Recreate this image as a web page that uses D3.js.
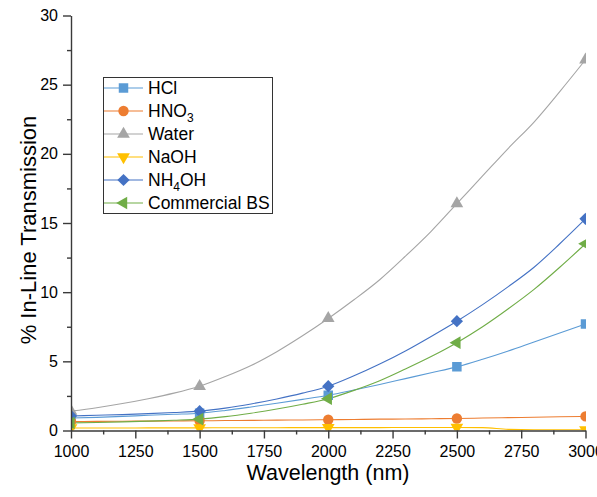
<!DOCTYPE html>
<html><head><meta charset="utf-8">
<script src="https://cdn.jsdelivr.net/npm/d3@7"></script>
<style>body{margin:0;background:#fff}svg{display:block;font-family:"Liberation Sans",Arial,sans-serif}</style>
</head><body><svg id="c" width="597" height="497"></svg>
<script>
// ---- data ----
const wavelengths = [1000,1100,1200,1300,1400,1500,1600,1700,1800,1900,2000,2100,2200,2300,2400,2500,2600,2700,2800,2900,3000];
const markerWavelengths = [1000,1500,2000,2500,3000];
const hcl   = [0.9,0.95,1.02,1.1,1.17,1.25,1.45,1.7,1.97,2.25,2.55,2.93,3.33,3.75,4.17,4.6,5.15,5.75,6.4,7.05,7.7];
const hno3  = [0.65,0.66,0.67,0.68,0.69,0.7,0.72,0.73,0.75,0.76,0.78,0.8,0.82,0.83,0.85,0.87,0.9,0.93,0.96,0.99,1.02];
const water = [1.4,1.65,1.95,2.3,2.7,3.2,3.9,4.7,5.7,6.85,8.1,9.45,10.9,12.6,14.4,16.4,18.4,20.4,22.3,24.5,26.8];
const naoh  = [0.18,0.18,0.18,0.19,0.19,0.19,0.2,0.2,0.2,0.21,0.21,0.21,0.21,0.22,0.22,0.22,0.21,0.08,0.05,0.05,0.05];
const nh4oh = [1.05,1.1,1.15,1.22,1.3,1.4,1.62,1.92,2.28,2.7,3.2,3.95,4.8,5.75,6.8,7.9,9.1,10.4,11.8,13.5,15.3];
const commercialBS = [0.55,0.58,0.62,0.68,0.74,0.82,1.0,1.25,1.55,1.9,2.3,2.9,3.6,4.45,5.35,6.35,7.5,8.8,10.2,11.8,13.5];
const xTickValues = [1000,1250,1500,1750,2000,2250,2500,2750,3000];
const yTickValues = [0,5,10,15,20,25,30];

const series = [
  {name:"HCl",   label:["HCl"],          values:hcl,   color:"#5B9BD5", shape:"square"},
  {name:"HNO3",  label:["HNO","3",""],   values:hno3,  color:"#ED7D31", shape:"circle"},
  {name:"Water", label:["Water"],        values:water, color:"#A5A5A5", shape:"triUp"},
  {name:"NaOH",  label:["NaOH"],         values:naoh,  color:"#FFC000", shape:"triDown"},
  {name:"NH4OH", label:["NH","4","OH"],  values:nh4oh, color:"#4472C4", shape:"diamond"},
  {name:"Commercial BS", label:["Commercial BS"], values:commercialBS, color:"#70AD47", shape:"triLeft"}
];

// ---- layout ----
const svg = d3.select("#c");
const x = d3.scaleLinear().domain([1000,3000]).range([71,585.5]);
const y = d3.scaleLinear().domain([0,30]).range([430.5,15.5]);

const shapes = {
  square:  {type:d3.symbolSquare,   size:90,  rot:0},
  circle:  {type:d3.symbolCircle,   size:85,  rot:0},
  triUp:   {type:d3.symbolTriangle, size:70,  rot:0},
  triDown: {type:d3.symbolTriangle, size:70,  rot:180},
  diamond: {type:d3.symbolSquare,   size:75,  rot:45},
  triLeft: {type:d3.symbolTriangle, size:70,  rot:-90}
};
function symbolPath(s){ return d3.symbol().type(shapes[s].type).size(shapes[s].size)(); }

svg.append("clipPath").attr("id","plotclip").append("rect")
  .attr("x",71).attr("y",15).attr("width",515).attr("height",415.5);

const plot = svg.append("g").attr("clip-path","url(#plotclip)");
const line = d3.line().x((d,i)=>x(wavelengths[i])).y(d=>y(d)).curve(d3.curveMonotoneX);

series.forEach(s=>{
  plot.append("path").attr("d",line(s.values)).attr("fill","none")
    .attr("stroke",s.color).attr("stroke-width",1.1);
});
series.forEach(s=>{
  markerWavelengths.forEach(w=>{
    const v = s.values[wavelengths.indexOf(w)];
    plot.append("path").attr("d",symbolPath(s.shape))
      .attr("transform",`translate(${x(w)},${y(v)}) rotate(${shapes[s.shape].rot})`)
      .attr("fill",s.color);
  });
});

// ---- axes ----
const axisColor = "#3a3a3a";
function styleAxis(g){
  g.selectAll("path.domain").attr("stroke",axisColor).attr("stroke-width",1.4);
  g.selectAll(".tick line").attr("stroke",axisColor).attr("stroke-width",1.4);
  g.selectAll(".tick text").attr("fill","#000").attr("font-size",16).attr("font-family","Liberation Sans, Arial, sans-serif");
}
const xMinor = d3.range(1000,3001,125).filter(v=>!xTickValues.includes(v));
svg.append("g").attr("transform","translate(0,430.5)")
  .call(d3.axisBottom(x).tickValues(xMinor).tickSize(4).tickFormat(""))
  .call(g=>{g.select(".domain").remove(); g.selectAll("line").attr("stroke",axisColor).attr("stroke-width",1.4);});
svg.append("g").attr("transform","translate(0,430.5)")
  .call(d3.axisBottom(x).tickValues(xTickValues).tickSize(8).tickSizeOuter(0).tickPadding(7).tickFormat(d3.format("d")))
  .call(styleAxis);

const yMinor = d3.range(2.5,30,5);
svg.append("g").attr("transform","translate(71,0)")
  .call(d3.axisLeft(y).tickValues(yMinor).tickSize(4).tickFormat(""))
  .call(g=>{g.select(".domain").remove(); g.selectAll("line").attr("stroke",axisColor).attr("stroke-width",1.4);});
svg.append("g").attr("transform","translate(71,0)")
  .call(d3.axisLeft(y).tickValues(yTickValues).tickSize(8).tickSizeOuter(0).tickPadding(5))
  .call(styleAxis);

svg.append("text").attr("x",328).attr("y",480).attr("text-anchor","middle")
  .attr("font-size",21.5).text("Wavelength (nm)");
svg.append("text").attr("transform","translate(36,230) rotate(-90)").attr("text-anchor","middle")
  .attr("font-size",22).text("% In-Line Transmission");

// ---- legend ----
const lg = svg.append("g");
lg.append("rect").attr("x",103.5).attr("y",77.5).attr("width",169).attr("height",136)
  .attr("fill","#fff").attr("stroke","#333").attr("stroke-width",1);
series.forEach((s,i)=>{
  const cy = 88 + i*23;
  lg.append("line").attr("x1",104).attr("x2",143).attr("y1",cy).attr("y2",cy)
    .attr("stroke",s.color).attr("stroke-width",1.1);
  lg.append("path").attr("d",symbolPath(s.shape))
    .attr("transform",`translate(123.5,${cy}) rotate(${shapes[s.shape].rot})`).attr("fill",s.color);
  const t = lg.append("text").attr("x",148).attr("y",cy+6).attr("font-size",17.5);
  t.append("tspan").text(s.label[0]);
  if(s.label.length>1){
    t.append("tspan").attr("font-size",12).attr("dy",5).text(s.label[1]);
    if(s.label[2]) t.append("tspan").attr("dy",-5).text(s.label[2]);
  }
});
</script></body></html>
